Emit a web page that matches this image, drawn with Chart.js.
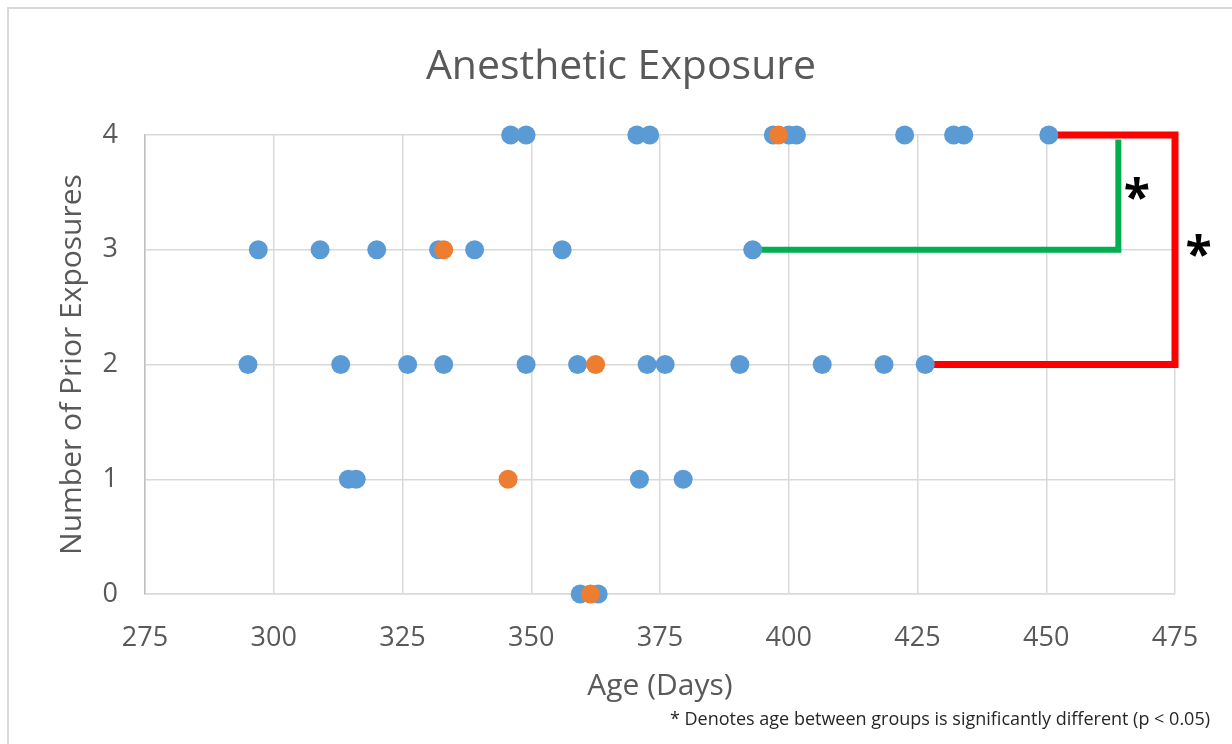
<!DOCTYPE html>
<html>
<head>
<meta charset="utf-8">
<script src="https://cdn.jsdelivr.net/npm/chart.js"></script>
<style>
  body { margin: 0; background: #fff; }
</style>
</head>
<body>
<canvas id="myChart" width="1232" height="744"></canvas>
<script>
// Values
var blueAges = [346, 349, 370.5, 373, 397, 400, 401.5, 422.5, 432, 434, 450.5,
                297, 309, 320, 332, 339, 356, 393,
                295, 313, 326, 333, 349, 359, 372.5, 376, 390.5, 406.5, 418.5, 426.5,
                314.5, 316, 371, 379.5,
                359.5, 363];
var blueExposures = [4, 4, 4, 4, 4, 4, 4, 4, 4, 4, 4,
                     3, 3, 3, 3, 3, 3, 3,
                     2, 2, 2, 2, 2, 2, 2, 2, 2, 2, 2, 2,
                     1, 1, 1, 1,
                     0, 0];
var orangeAges = [398, 333, 362.5, 345.5, 361.5];
var orangeExposures = [4, 3, 2, 1, 0];

// significance brackets
var greenBracketX = [393, 464, 464];
var greenBracketY = [3, 3, 3.96];
var redBracketX = [450.5, 475, 475, 426.5];
var redBracketY = [4, 4, 2, 2];
var starX = [467.6, 479.6];
var starY = [3.52, 3.02];

var xTicks = {min: 275, max: 475, step: 25};
var yTicks = {min: 0, max: 4, step: 1};

function toPoints(xs, ys){
    var pts = [];
    for (var i = 0; i < xs.length; i++) {
        pts.push({x: xs[i], y: ys[i]});
    }
    return pts;
}

var textGrey = '#595959';
var font = "'Open Sans', sans-serif";

var extras = {
    id: 'extras',
    beforeDraw: function(chart){
        var ctx = chart.ctx;
        ctx.save();
        ctx.fillStyle = '#fff';
        ctx.fillRect(0, 0, chart.width, chart.height);
        ctx.strokeStyle = '#d9d9d9';
        ctx.lineWidth = 2;
        ctx.beginPath();
        ctx.moveTo(8, chart.height);
        ctx.lineTo(8, 8);
        ctx.lineTo(chart.width, 8);
        ctx.stroke();
        ctx.restore();
    },
    afterDraw: function(chart){
        var ctx = chart.ctx;
        var xs = chart.scales.x, ys = chart.scales.y;
        ctx.save();
        // title
        ctx.fillStyle = textGrey;
        ctx.font = "41px " + font;
        ctx.textAlign = 'center';
        ctx.textBaseline = 'middle';
        ctx.fillText('Anesthetic Exposure', 621, 67);
        // stars
        ctx.fillStyle = '#000';
        ctx.font = "bold 48px " + font;
        for (var i = 0; i < starX.length; i++) {
            ctx.fillText('*', xs.getPixelForValue(starX[i]), ys.getPixelForValue(starY[i]) + 10);
        }
        // footnote
        ctx.font = "18px " + font;
        ctx.fillStyle = '#262626';
        ctx.textAlign = 'right';
        ctx.fillText('* Denotes age between groups is significantly different (p < 0.05)', 1210, 720);
        ctx.restore();
    }
};

new Chart("myChart", {
    type: "scatter",
    data: {
        datasets: [{
            label: 'orange',
            data: toPoints(orangeAges, orangeExposures),
            backgroundColor: '#ed7d31',
            borderWidth: 0,
            pointRadius: 9.5,
            order: 0,
            clip: false
        }, {
            label: 'blue',
            data: toPoints(blueAges, blueExposures),
            backgroundColor: '#5b9bd5',
            borderWidth: 0,
            pointRadius: 9.5,
            order: 1,
            clip: false
        }, {
            label: 'green bracket',
            data: toPoints(greenBracketX, greenBracketY),
            showLine: true,
            borderColor: '#00b050',
            borderWidth: 6,
            pointRadius: 0,
            borderJoinStyle: 'miter',
            order: 2,
            clip: false
        }, {
            label: 'red bracket',
            data: toPoints(redBracketX, redBracketY),
            showLine: true,
            borderColor: '#ff0000',
            borderWidth: 7,
            pointRadius: 0,
            borderJoinStyle: 'miter',
            order: 3,
            clip: false
        }]
    },
    options: {
        responsive: false,
        animation: false,
        devicePixelRatio: 1,
        layout: { padding: { top: 135, right: 57, left: 0, bottom: 0 } },
        plugins: {
            legend: { display: false },
            tooltip: { enabled: false },
            title: { display: false }
        },
        scales: {
            x: {
                type: 'linear',
                min: xTicks.min,
                max: xTicks.max,
                ticks: { stepSize: xTicks.step, color: textGrey, padding: 28,
                         font: { family: font, size: 27 } },
                grid: { color: '#d9d9d9', lineWidth: 1.5, drawTicks: false },
                border: { color: '#d9d9d9', width: 1.5 },
                title: { display: true, text: 'Age (Days)', color: textGrey,
                         font: { family: font, size: 30, lineHeight: 1.2 },
                         padding: { top: 0, bottom: 40 } },
                afterFit: function(scale){ scale.height = 150; }
            },
            y: {
                min: yTicks.min,
                max: yTicks.max,
                ticks: { stepSize: yTicks.step, color: textGrey, padding: 27,
                         font: { family: font, size: 27 } },
                grid: { color: '#d9d9d9', lineWidth: 1.5, drawTicks: false },
                border: { color: '#bfbfbf', width: 1.5 },
                title: { display: true, text: 'Number of Prior Exposures', color: textGrey,
                         font: { family: font, size: 30, lineHeight: 1.2 },
                         padding: { top: 54, bottom: 0 } },
                afterFit: function(scale){ scale.width = 145; }
            }
        }
    },
    plugins: [extras]
});
</script>
</body>
</html>
